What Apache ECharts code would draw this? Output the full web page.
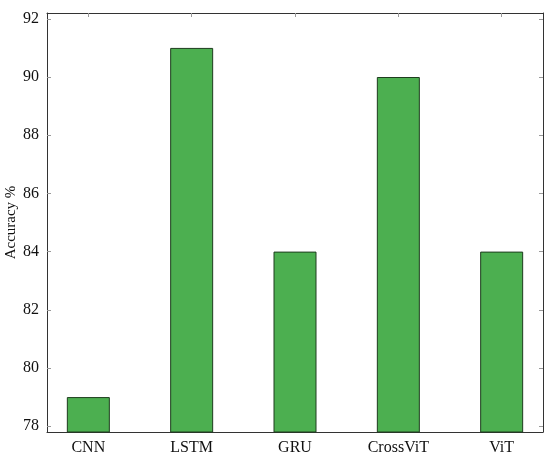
<!DOCTYPE html>
<html>
<head>
<meta charset="utf-8">
<script src="https://cdn.jsdelivr.net/npm/echarts@6/dist/echarts.min.js"></script>
<style>
  html, body { margin: 0; padding: 0; background: #fff; }
  #chart { width: 550px; height: 462px; }
</style>
</head>
<body>
<div id="chart"></div>
<script>
const models = ['CNN', 'LSTM', 'GRU', 'CrossViT', 'ViT']
const accuracy = [79, 91, 84, 90, 84]
const yTicks = [78, 80, 82, 84, 86, 88, 90, 92]
const xTicks = [0, 1, 2, 3, 4]

const font = 'Liberation Serif'
const chart = echarts.init(document.getElementById('chart'))

const tickStyle = { show: true, inside: true, length: 4, lineStyle: { color: '#999', width: 1 } }

chart.setOption({
  animation: false,
  grid: { left: 47, right: 7, top: 13, bottom: 30, outerBoundsMode: 'none' },
  xAxis: [{
    type: 'value',
    min: -0.4,
    max: 4.4,
    position: 'bottom',
    axisLine: { show: true, onZero: false, lineStyle: { color: '#333', width: 1 } },
    axisTick: { ...tickStyle, customValues: xTicks },
    splitLine: { show: false },
    axisLabel: {
      customValues: xTicks,
      formatter: v => models[Math.round(v)],
      color: '#111', fontFamily: font, fontSize: 16, margin: 8
    }
  }, {
    type: 'value',
    min: -0.4,
    max: 4.4,
    position: 'top',
    axisLine: { show: true, onZero: false, lineStyle: { color: '#333', width: 1 } },
    axisTick: { ...tickStyle, customValues: xTicks },
    splitLine: { show: false },
    axisLabel: { show: false }
  }],
  yAxis: [{
    type: 'value',
    min: 77.8,
    max: 92.2,
    position: 'left',
    name: 'Accuracy %',
    nameLocation: 'middle',
    nameGap: 28,
    nameMoveOverlap: false,
    nameTextStyle: { color: '#111', fontFamily: font, fontSize: 15 },
    axisLine: { show: true, onZero: false, lineStyle: { color: '#333', width: 1 } },
    axisTick: { ...tickStyle, customValues: yTicks },
    splitLine: { show: false },
    axisLabel: { customValues: yTicks, color: '#111', fontFamily: font, fontSize: 16, margin: 8 }
  }, {
    type: 'value',
    min: 77.8,
    max: 92.2,
    position: 'right',
    axisLine: { show: true, onZero: false, lineStyle: { color: '#333', width: 1 } },
    axisTick: { ...tickStyle, customValues: yTicks },
    splitLine: { show: false },
    axisLabel: { show: false }
  }],
  series: [{
    type: 'bar',
    xAxisIndex: 0,
    yAxisIndex: 0,
    data: accuracy.map((v, i) => [i, v]),
    barWidth: 43,
    itemStyle: { color: '#4caf50', borderColor: '#1e3d1e', borderWidth: 1 }
  }]
})
</script>
</body>
</html>
